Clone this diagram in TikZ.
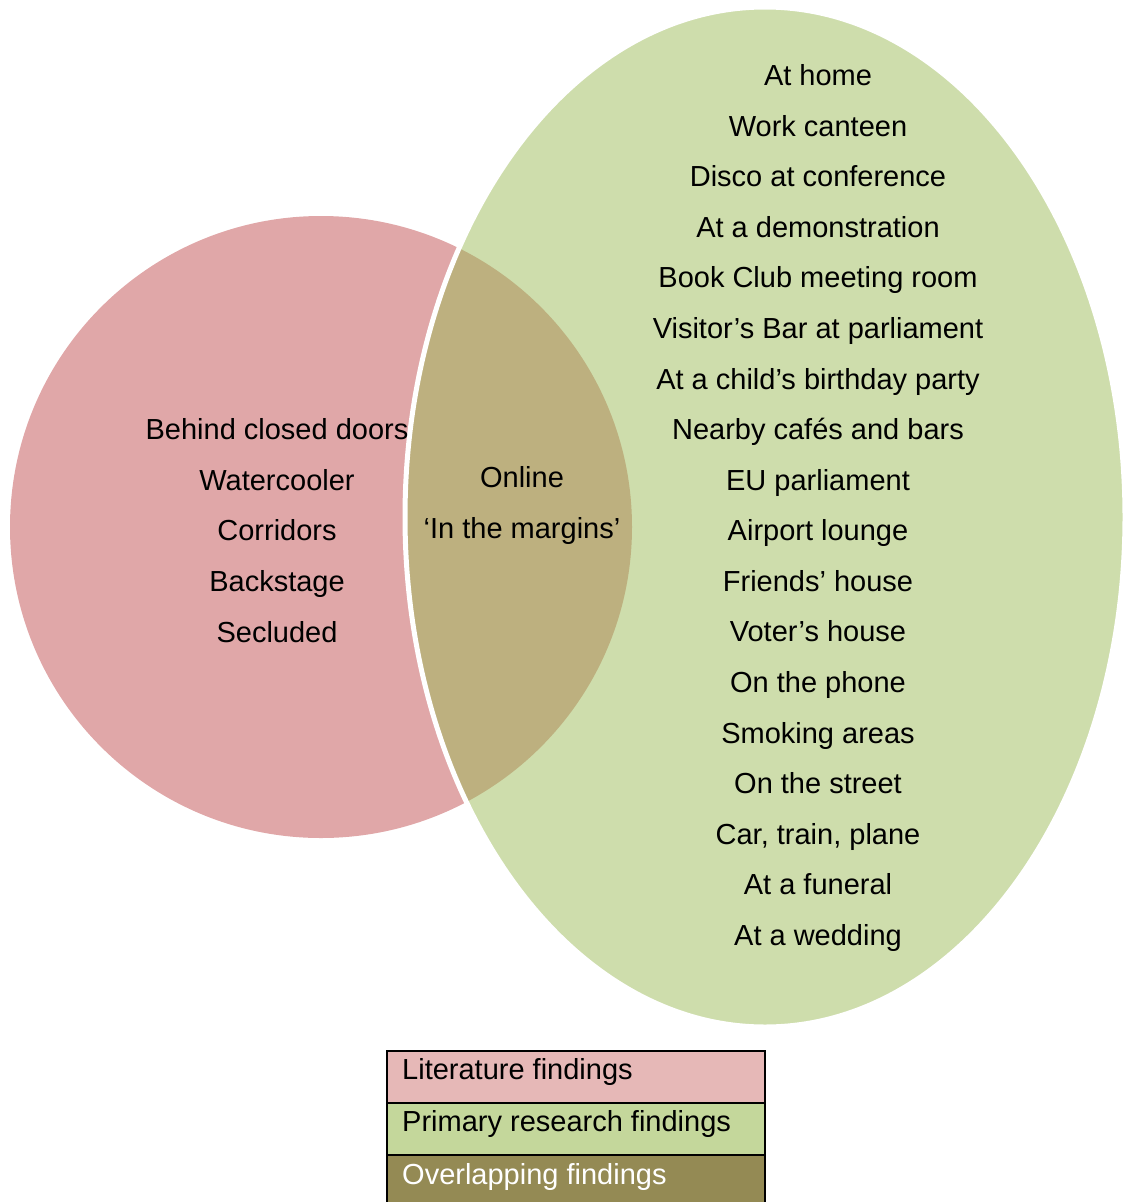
\documentclass[tikz,border=0pt]{standalone}
\usepackage{fontspec}
\setmainfont{Liberation Sans}
\begin{document}
\begin{tikzpicture}[x=1pt,y=-1pt,
  lbl/.style={font=\fontsize{29}{32}\selectfont, anchor=base, inner sep=0pt},
  legtxt/.style={font=\fontsize{29}{32}\selectfont, anchor=base west, inner sep=0pt},
  legrow/.style={draw=black, line width=2pt}]
\definecolor{litpink}{RGB}{224,167,168}
\definecolor{primgreen}{RGB}{206,221,172}
\definecolor{overlap}{RGB}{189,176,127}
\definecolor{legpink}{RGB}{230,184,183}
\definecolor{leggreen}{RGB}{196,215,155}
\definecolor{legolive}{RGB}{148,138,84}
\useasboundingbox (0,0) rectangle (1122,1202);

% the two sets
\fill[litpink] (321,527) circle [radius=311];
\fill[primgreen] (765,517) ellipse [x radius=360, y radius=510];
\begin{scope}
  \clip (765,517) ellipse [x radius=360, y radius=510];
  \fill[overlap] (321,527) circle [radius=311];
\end{scope}
\draw[white, line width=5pt] (765,517) ellipse [x radius=360, y radius=510];

% literature only
\foreach \t [count=\i from 0] in {Behind closed doors, Watercooler, Corridors, Backstage, Secluded}
  \node[lbl] (lit\i) at (277,{439.5+50.7*\i}) {\t};

% overlap
\node[lbl] (ov0) at (522,487.5) {Online};
\node[lbl] (ov1) at (522,538.5) {‘In the margins’};

% primary research only
\foreach \t [count=\i from 0] in {At home, Work canteen, Disco at conference, At a demonstration,
  Book Club meeting room, Visitor’s Bar at parliament, At a child’s birthday party,
  Nearby cafés and bars, EU parliament, Airport lounge, Friends’ house, Voter’s house,
  On the phone, Smoking areas, On the street, {Car, train, plane}, At a funeral, At a wedding}
  \node[lbl] (pr\i) at (818,{85.5+50.59*\i}) {\t};

% legend
\draw[legrow, fill=legpink] (387,1051) rectangle (765,1103);
\draw[legrow, fill=leggreen] (387,1103) rectangle (765,1155);
\draw[legrow, fill=legolive] (387,1155) rectangle (765,1210);
\node[legtxt] (leg0) at (402,1079.5) {Literature findings};
\node[legtxt] (leg1) at (402,1131.5) {Primary research findings};
\node[legtxt, text=white] (leg2) at (402,1184) {Overlapping findings};
\end{tikzpicture}
\end{document}
